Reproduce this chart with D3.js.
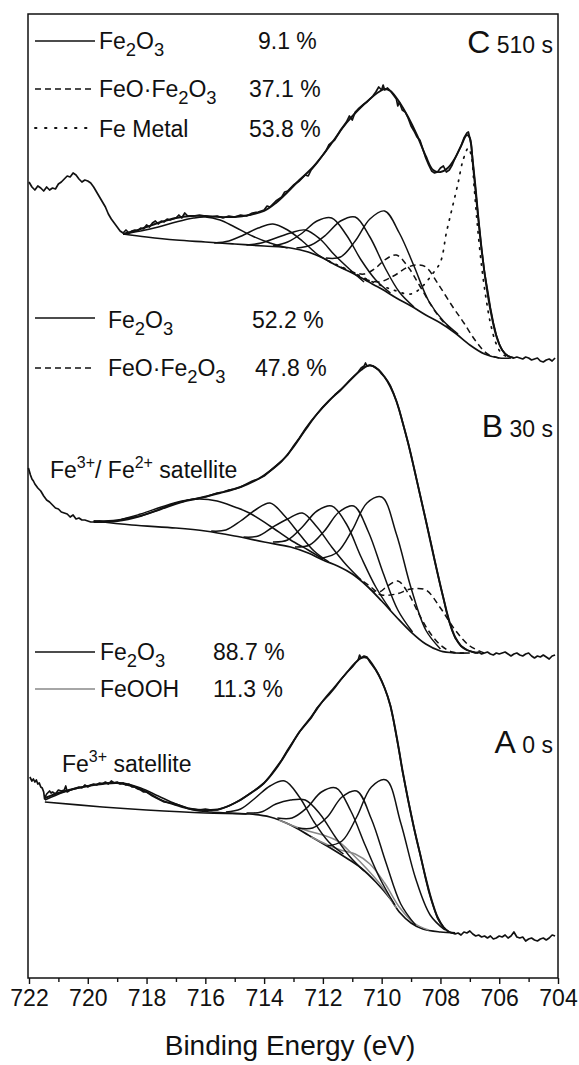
<!DOCTYPE html>
<html><head><meta charset="utf-8">
<script src="https://cdn.jsdelivr.net/npm/d3@7"></script>
<style>
body{margin:0;background:#fff;}
svg{display:block;}
text{font-family:"Liberation Sans",Arial,sans-serif;fill:#111;}
</style>
</head><body>
<svg id="chart" width="579" height="1065"></svg>
<script>
// ---------- tick labels ----------
const energyTicks = [722,720,718,716,714,712,710,708,706,704];
const minorTicks = [721,719,717,715,713,711,709,707,705];
const axisTitle = "Binding Energy (eV)";

// ---------- Panel C (510 s) ----------
const C_exp = [[722.0,796],[721.9,791],[721.8,788],[721.7,792],[721.6,790],[721.5,787],[721.4,791],[721.3,788],[721.2,790],[721.1,789],[721.0,794],[720.9,796],[720.8,799],[720.7,802],[720.6,801],[720.5,805],[720.4,803],[720.3,799],[720.2,796],[720.1,798],[720.0,797],[719.9,795],[719.8,791],[719.7,786],[719.6,781],[719.5,776],[719.4,771],[719.3,764],[719.2,759],[719.1,755],[719.0,751],[718.9,747],[718.8,745],[718.7,748],[718.6,745],[718.5,747],[718.4,748],[718.3,747],[718.2,750],[718.1,749],[718.0,753],[717.9,751],[717.8,755],[717.7,757],[717.6,754],[717.5,757],[717.4,756],[717.3,759],[717.2,758],[717.0,760],[716.9,763],[716.8,760],[716.7,765],[716.6,762],[716.4,762],[716.2,763],[716.0,762],[715.8,761],[715.6,762],[715.4,760],[715.2,762],[715.0,761],[714.8,763],[714.6,762],[714.4,765],[714.2,766],[714.0,768],[713.9,772],[713.8,771],[713.6,777],[713.4,781],[713.3,786],[713.2,787],[713.1,790],[713.0,793],[712.8,797],[712.6,803],[712.5,802],[712.4,808],[712.2,815],[712.0,823],[711.9,827],[711.8,833],[711.6,838],[711.4,848],[711.2,856],[711.1,862],[711.0,858],[710.9,866],[710.8,869],[710.6,874],[710.5,876],[710.4,879],[710.3,882],[710.2,886],[710.1,891],[710.0,888],[709.95,893],[709.9,888],[709.8,890],[709.7,887],[709.6,883],[709.5,879],[709.45,872],[709.4,876],[709.3,868],[709.2,866],[709.1,860],[709.0,852],[708.9,847],[708.8,841],[708.7,838],[708.6,829],[708.5,820],[708.4,813],[708.3,807],[708.2,805],[708.1,806],[708.0,810],[707.9,812],[707.8,806],[707.7,808],[707.6,813],[707.5,820],[707.4,826],[707.3,832],[707.2,840],[707.1,845],[707.05,846],[707.0,840],[706.95,832],[706.9,818],[706.8,790],[706.7,758],[706.6,730],[706.5,705],[706.4,688],[706.3,670],[706.2,655],[706.1,643],[706.0,634],[705.9,628],[705.8,624],[705.7,622],[705.6,621],[705.5,620],[705.4,621],[705.3,620],[705.2,619],[705.1,621],[705.0,620],[704.9,618],[704.8,619],[704.7,620],[704.6,617],[704.5,616],[704.4,618],[704.3,619],[704.2,617],[704.1,620]];
const C_fit = [[718.8,744],[718.4,747],[718.0,751],[717.5,756],[717.0,760],[716.5,762],[716.0,762],[715.5,761],[715.0,761],[714.5,763],[714.0,767],[713.6,775],[713.2,786],[712.8,798],[712.4,809],[712.0,823],[711.6,839],[711.2,855],[710.8,868],[710.4,879],[710.1,886],[709.9,889],[709.7,887],[709.4,876],[709.1,861],[708.8,843],[708.5,822],[708.25,808],[708.0,806],[707.75,810],[707.5,820],[707.3,832],[707.1,843],[707.0,840],[706.9,815],[706.75,770],[706.6,728],[706.45,695],[706.3,668],[706.1,642],[705.9,628],[705.7,622],[705.5,620]];
const C_bg = [[718.8,744],[718.0,741],[717.0,738],[716.0,736],[715.0,734],[714.0,732],[713.1,730],[712.5,726],[712.0,720],[711.5,712],[711.0,705],[710.5,697],[710.0,689],[709.5,680],[709.0,672],[708.5,663],[708.0,655],[707.5,645],[707.0,633],[706.5,624],[706.0,620],[705.6,620]];
const C_fe2o3 = [
  [[718.8,744],[718.2,747],[717.6,751],[717.0,756],[716.4,760],[716.0,761],[715.5,758],[715.0,751],[714.4,742],[713.8,735],[713.2,730]],
  [[715.7,735],[715.2,737],[714.7,743],[714.2,750],[713.7,754],[713.2,748],[712.7,737],[712.2,724],[711.7,715]],
  [[714.6,733],[714.1,735],[713.6,740],[713.1,745],[712.6,748],[712.1,739],[711.6,723],[711.1,709],[710.6,696]],
  [[713.7,732],[713.2,736],[712.7,745],[712.2,757],[711.7,760],[711.2,743],[710.7,718],[710.2,698],[709.7,685]],
  [[712.9,730],[712.4,733],[711.9,743],[711.4,757],[710.9,761],[710.4,741],[709.9,711],[709.4,686],[708.9,671]],
  [[711.9,720],[711.4,721],[710.9,737],[710.4,759],[709.9,767],[709.4,745],[708.9,712],[708.4,677],[707.9,657],[707.4,644]]
];
const C_feo = [
  [[711.4,711],[711.0,706],[710.6,704],[710.2,710],[709.9,718],[709.5,723],[709.1,711],[708.7,692],[708.3,672],[707.9,656],[707.5,646]],
  [[710.6,699],[710.1,696],[709.6,702],[709.1,711],[708.8,713],[708.5,711],[708.1,695],[707.6,672],[707.2,655],[706.8,637],[706.4,624],[706.0,620]]
];
const C_metal = [[711.8,717],[711.0,706],[710.3,696],[709.6,688],[709.0,684],[708.6,692],[708.3,703],[708.0,716],[707.8,745],[707.6,770],[707.4,795],[707.23,818],[707.05,830],[706.95,822],[706.85,790],[706.75,755],[706.6,712],[706.45,680],[706.3,655],[706.1,634],[705.9,624],[705.6,620]];

// ---------- Panel B (30 s) ----------
const B_exp = [[722.02,510],[721.95,503],[721.9,499],[721.85,497],[721.8,494],[721.7,490],[721.6,487],[721.5,482],[721.4,478],[721.3,476],[721.2,473],[721.1,470],[721.0,469],[720.9,466],[720.8,465],[720.7,464],[720.6,461],[720.5,463],[720.4,459],[720.3,460],[720.2,458],[720.1,458],[720.0,457],[719.9,456],[719.8,456],[719.6,457],[719.4,456],[719.2,457],[719.0,457],[718.8,459],[718.6,460],[718.4,461],[718.2,462],[718.0,464],[717.8,466],[717.6,468],[717.4,471],[717.2,473],[717.0,475],[716.8,476],[716.6,478],[716.4,479],[716.2,480],[716.0,481],[715.8,483],[715.6,485],[715.4,486],[715.2,488],[715.0,489],[714.8,491],[714.6,494],[714.4,497],[714.2,499],[714.0,502],[713.8,507],[713.6,512],[713.4,517],[713.2,523],[713.0,532],[712.8,540],[712.6,549],[712.4,557],[712.2,564],[712.0,571],[711.8,577],[711.6,583],[711.4,588],[711.2,594],[711.0,600],[710.9,603],[710.8,606],[710.7,610],[710.6,612],[710.55,615],[710.5,612],[710.4,613],[710.3,612],[710.2,610],[710.1,608],[710.0,604],[709.9,601],[709.8,597],[709.7,592],[709.6,585],[709.5,577],[709.4,568],[709.3,557],[709.2,546],[709.1,535],[709.0,523],[708.9,510],[708.8,497],[708.7,484],[708.6,471],[708.5,458],[708.4,445],[708.3,432],[708.2,418],[708.1,405],[708.0,392],[707.9,380],[707.8,367],[707.7,356],[707.6,347],[707.5,340],[707.4,336],[707.3,332],[707.2,330],[707.1,328],[707.0,327],[706.9,326],[706.8,325],[706.7,326],[706.6,324],[706.5,325],[706.4,326],[706.3,324],[706.2,323],[706.1,325],[706.0,324],[705.9,325],[705.8,326],[705.7,324],[705.6,322],[705.5,324],[705.4,325],[705.3,323],[705.2,322],[705.1,324],[705.0,325],[704.9,322],[704.8,320],[704.7,322],[704.6,321],[704.5,323],[704.4,321],[704.3,319],[704.2,322],[704.1,323]];
const B_fit = [[719.8,456],[719.0,457],[718.2,462],[717.5,469],[716.8,476],[716.2,480],[715.5,485],[714.8,491],[714.2,499],[713.8,507],[713.4,517],[713.0,531],[712.6,548],[712.2,564],[711.8,577],[711.4,588],[711.0,600],[710.7,608],[710.5,612],[710.3,612],[710.1,608],[709.9,601],[709.7,591],[709.5,577],[709.3,557],[709.1,535],[708.9,510],[708.7,484],[708.5,458],[708.3,431],[708.1,405],[707.9,380],[707.7,357],[707.5,341],[707.3,332],[707.1,328],[706.9,326],[706.7,325]];
const B_bg = [[719.8,457],[718.5,453],[717.0,450],[716.0,447],[715.0,442],[714.0,436],[713.1,431],[712.5,425],[712.0,418],[711.5,412],[711.0,404],[710.5,392],[710.0,377],[709.5,361],[709.0,346],[708.5,334],[708.0,327],[707.5,325],[707.0,325]];
const B_fe2o3 = [
  [[719.8,457],[719.0,458],[718.2,464],[717.5,471],[716.8,477],[716.2,479],[715.6,477],[715.0,471],[714.5,465],[713.8,452],[713.1,438],[712.5,428],[712.0,419]],
  [[715.8,447],[715.3,448],[714.8,457],[714.3,468],[713.8,475],[713.3,462],[712.8,444],[712.3,427],[711.8,416]],
  [[714.7,441],[714.2,442],[713.7,451],[713.2,459],[712.7,465],[712.2,451],[711.7,431],[711.2,413],[710.7,398]],
  [[713.7,436],[713.2,438],[712.7,451],[712.2,467],[711.7,472],[711.2,454],[710.7,421],[710.2,391],[709.7,368]],
  [[712.95,431],[712.45,433],[711.95,447],[711.45,466],[710.95,472],[710.45,446],[709.95,405],[709.45,368],[708.95,346]],
  [[712.0,420],[711.5,426],[711.0,448],[710.5,475],[710.0,481],[709.5,444],[709.0,390],[708.5,348],[708.0,329]]
];
const B_feo = [
  [[710.9,402],[710.45,393],[710.1,386],[709.8,392],[709.45,397],[709.1,385],[708.75,365],[708.4,347],[708.0,333],[707.6,326],[707.2,325]],
  [[710.4,389],[710.0,383],[709.5,384],[709.0,389],[708.5,388],[708.0,370],[707.5,348],[707.0,332],[706.5,325]]
];

// ---------- Panel A (0 s) ----------
const A_exp = [[721.97,201],[721.9,197],[721.85,199],[721.8,196],[721.75,198],[721.7,194],[721.65,195],[721.6,191],[721.55,190],[721.5,186],[721.47,179],[721.45,181],[721.4,184],[721.3,187],[721.25,185],[721.2,186],[721.1,184],[721.0,188],[720.9,187],[720.8,188],[720.75,192],[720.7,186],[720.6,188],[720.5,189],[720.4,190],[720.3,191],[720.2,190],[720.1,193],[720.0,191],[719.9,193],[719.8,194],[719.7,193],[719.6,195],[719.5,194],[719.4,196],[719.3,194],[719.2,197],[719.1,195],[719.0,196],[718.9,194],[718.8,195],[718.7,193],[718.6,194],[718.5,191],[718.4,191],[718.3,189],[718.2,188],[718.1,186],[718.0,186],[717.9,184],[717.8,182],[717.6,179],[717.4,176],[717.2,175],[717.0,174],[716.8,172],[716.6,170],[716.4,169],[716.2,168],[716.0,169],[715.8,168],[715.6,168],[715.4,170],[715.2,172],[715.0,175],[714.8,178],[714.6,182],[714.4,186],[714.2,190],[714.0,195],[713.8,202],[713.6,210],[713.4,218],[713.2,228],[713.0,237],[712.8,246],[712.6,253],[712.4,260],[712.2,270],[712.0,277],[711.8,283],[711.6,290],[711.4,298],[711.2,305],[711.0,311],[710.9,315],[710.8,318],[710.75,323],[710.7,320],[710.6,322],[710.5,321],[710.4,316],[710.3,312],[710.2,308],[710.1,303],[710.0,297],[709.9,290],[709.8,282],[709.7,272],[709.6,258],[709.5,242],[709.4,226],[709.3,208],[709.2,193],[709.1,178],[709.0,164],[708.9,150],[708.8,137],[708.7,125],[708.6,112],[708.5,99],[708.4,87],[708.3,77],[708.2,68],[708.1,60],[708.0,55],[707.9,51],[707.8,48],[707.7,46],[707.6,45],[707.5,44],[707.4,45],[707.3,43],[707.2,46],[707.1,45],[707.0,47],[706.9,44],[706.8,42],[706.7,43],[706.6,41],[706.5,42],[706.4,40],[706.3,42],[706.2,39],[706.1,40],[706.0,42],[705.9,41],[705.8,43],[705.7,40],[705.6,42],[705.5,46],[705.4,41],[705.3,40],[705.2,41],[705.1,37],[705.0,39],[704.9,40],[704.8,38],[704.7,37],[704.6,39],[704.5,40],[704.4,38],[704.3,40],[704.2,43],[704.1,42]];
const A_fit = [[721.46,180],[721.0,185],[720.5,189],[720.0,192],[719.5,194],[719.0,195],[718.5,192],[718.0,186],[717.5,178],[717.0,173],[716.5,169],[716.0,168],[715.5,169],[715.0,175],[714.5,184],[714.0,195],[713.6,209],[713.2,227],[712.8,246],[712.4,261],[712.0,277],[711.6,291],[711.2,305],[710.9,315],[710.7,320],[710.5,320],[710.3,313],[710.1,303],[709.9,290],[709.7,272],[709.5,243],[709.3,209],[709.1,178],[708.9,150],[708.7,125],[708.5,100],[708.3,78],[708.1,61],[707.9,51],[707.7,46],[707.5,45]];
const A_bg = [[721.46,176],[719.5,171],[718.0,168],[716.0,165],[714.5,164],[713.8,161],[713.1,153],[712.5,143],[711.8,131],[711.2,120],[710.7,110],[710.2,96],[709.7,79],[709.4,66],[709.0,55],[708.6,49],[708.0,46],[707.5,45]];
const A_fe2o3 = [
  [[721.46,178],[720.8,186],[720.0,192],[719.4,195],[718.8,195],[718.2,190],[717.6,182],[717.0,174],[716.4,168],[715.8,166],[715.2,165],[714.6,164]],
  [[715.3,166],[714.8,169],[714.3,180],[713.8,192],[713.3,197],[712.8,181],[712.3,156],[711.8,136],[711.3,124]],
  [[714.6,165],[714.1,166],[713.6,174],[713.1,178],[712.6,178],[712.1,164],[711.6,142],[711.1,122],[710.6,107]],
  [[713.55,160],[713.05,160],[712.55,170],[712.05,186],[711.55,190],[711.05,167],[710.55,132],[710.05,99],[709.55,73]],
  [[712.85,150],[712.35,150],[711.85,161],[711.35,181],[710.85,187],[710.35,159],[709.85,115],[709.35,74],[708.85,53]],
  [[711.85,132],[711.35,137],[710.85,161],[710.35,191],[709.85,198],[709.35,155],[708.85,100],[708.35,63],[707.85,48]]
];
const A_feooh = [
  [[713.5,158],[713.0,152],[712.5,147],[712.0,143],[711.5,137],[711.0,124],[710.5,109],[710.0,92],[709.5,70]],
  [[712.4,141],[711.9,134],[711.4,128],[710.9,124],[710.4,114],[709.9,95],[709.4,71],[708.9,55],[708.4,48]]
];

// ---------- legends / labels ----------
const legendC = [{name:"Fe2O3", pct:"9.1 %", style:"solid"},{name:"FeO·Fe2O3", pct:"37.1 %", style:"dash"},{name:"Fe Metal", pct:"53.8 %", style:"dot"}];
const legendB = [{name:"Fe2O3", pct:"52.2 %", style:"solid"},{name:"FeO·Fe2O3", pct:"47.8 %", style:"dash"}];
const legendA = [{name:"Fe2O3", pct:"88.7 %", style:"solid"},{name:"FeOOH", pct:"11.3 %", style:"gray"}];

// ================= drawing =================
const svg = d3.select("#chart");
const L = 28, R = 558, T = 14, B = 978;
const x = d3.scaleLinear().domain([722,704]).range([29,558]);
const y = d3.scaleLinear().domain([0,964]).range([B,T]);

const styles = {
  solid:{stroke:"#111", dash:null, width:1.5},
  dash:{stroke:"#111", dash:"6,4", width:1.5},
  dot:{stroke:"#111", dash:"1.5,6.5", width:1.7},
  gray:{stroke:"#888", dash:null, width:1.5}
};

const mk = curve => d3.line().x(d=>x(d[0])).y(d=>y(d[1])).curve(curve);
const smooth = mk(d3.curveCatmullRom.alpha(0.5));
const raw = mk(d3.curveLinear);
const sortE = arr => arr.slice().sort((a,b)=>b[0]-a[0]);

const g = svg.append("g");
function drawCurve(data, st, gen, width) {
  const s = styles[st];
  g.append("path").attr("d", gen(sortE(data))).attr("fill","none")
    .attr("stroke", s.stroke).attr("stroke-width", width || s.width)
    .attr("stroke-dasharray", s.dash).attr("stroke-linejoin","round").attr("stroke-linecap", st==="dot"?"round":"butt");
}

function panel(bg, comps, fit, exp) {
  drawCurve(bg, "solid", smooth, 1.7);
  comps.forEach(c => c.list.forEach(d => drawCurve(d, c.style, smooth)));
  drawCurve(fit, "solid", smooth, 1.9);
  drawCurve(exp, "solid", raw, 1.7);
}
panel(C_bg, [{list:C_fe2o3, style:"solid"},{list:C_feo, style:"dash"},{list:[C_metal], style:"dot"}], C_fit, C_exp);
panel(B_bg, [{list:B_fe2o3, style:"solid"},{list:B_feo, style:"dash"}], B_fit, B_exp);
panel(A_bg, [{list:A_feooh, style:"gray"},{list:A_fe2o3, style:"solid"}], A_fit, A_exp);

// frame
svg.append("rect").attr("x",L).attr("y",T).attr("width",R-L).attr("height",B-T)
  .attr("fill","none").attr("stroke","#111").attr("stroke-width",1.5);

// axis (major and minor in separate groups)
const axMajor = svg.append("g").attr("transform",`translate(0,${B})`)
  .call(d3.axisBottom(x).tickValues(energyTicks).tickSize(6).tickPadding(6).tickFormat(d3.format("d")));
const axMinor = svg.append("g").attr("transform",`translate(0,${B})`)
  .call(d3.axisBottom(x).tickValues(minorTicks).tickSize(4).tickFormat(""));
[axMajor, axMinor].forEach(a => {
  a.selectAll(".domain").remove();
  a.selectAll("line").attr("stroke","#111").attr("stroke-width",1.4);
});
axMajor.selectAll("text").attr("font-size","23px").attr("font-family","Liberation Sans, Arial, sans-serif").attr("fill","#111");

svg.append("text").attr("x",290).attr("y",1055).attr("text-anchor","middle")
  .attr("font-size","28px").text(axisTitle);

// chemistry text with subscripts
function chem(sel, name, fs) {
  const parts = name.split(/(\d)/).filter(p=>p.length);
  let shifted = false;
  parts.forEach(p => {
    if (/\d/.test(p)) {
      sel.append("tspan").attr("dy", 7).attr("font-size", fs*0.8).text(p);
      shifted = true;
    } else {
      const t = sel.append("tspan").text(p);
      if (shifted) { t.attr("dy", -7); shifted = false; }
    }
  });
}

function legend(items, x0, x1, rows, textX, pctX, fs) {
  items.forEach((it, i) => {
    const r = rows[i];
    const s = styles[it.style];
    const dash = it.style === "dot" ? "1.5,8.5" : s.dash;
    svg.append("line").attr("x1",x0).attr("x2",x1).attr("y1",r.line).attr("y2",r.line)
      .attr("stroke",s.stroke).attr("stroke-width",s.width+0.2).attr("stroke-dasharray",dash)
      .attr("stroke-linecap", it.style==="dot"?"round":"butt");
    const t = svg.append("text").attr("x",textX).attr("y",r.text).attr("font-size",fs+"px");
    chem(t, it.name, fs);
    svg.append("text").attr("x",pctX[i]).attr("y",r.text).attr("font-size",fs+"px").text(it.pct);
  });
}
legend(legendC, 35, 95, [{line:41,text:49},{line:89,text:97},{line:128,text:137}], 99, [258,249,249], 23);
legend(legendB, 35, 95, [{line:318,text:328},{line:368,text:376}], 108, [252,255], 23);
legend(legendA, 35, 95, [{line:652,text:660},{line:689,text:697}], 100, [213,213], 23);

// panel tags
function tag(letter, time, yb) {
  const t = svg.append("text").attr("x",553).attr("y",yb).attr("text-anchor","end");
  t.append("tspan").attr("font-size","32px").text(letter);
  t.append("tspan").attr("font-size","23px").text(" " + time);
}
tag("C","510 s",53);
tag("B","30 s",437);
tag("A","0 s",753);

// satellite labels
function sat(xp, yb, parts) {
  const t = svg.append("text").attr("x",xp).attr("y",yb).attr("font-size","23px");
  parts.forEach(p => {
    if (p.sup) t.append("tspan").attr("dy",-10).attr("font-size","16px").text(p.t);
    else { const s = t.append("tspan").text(p.t); if (p.down) s.attr("dy",10); }
  });
}
sat(50, 478, [{t:"Fe"},{t:"3+",sup:true},{t:"/ Fe",down:true},{t:"2+",sup:true},{t:"  satellite",down:true}]);
sat(62, 772, [{t:"Fe"},{t:"3+",sup:true},{t:" satellite",down:true}]);
</script>
</body></html>
